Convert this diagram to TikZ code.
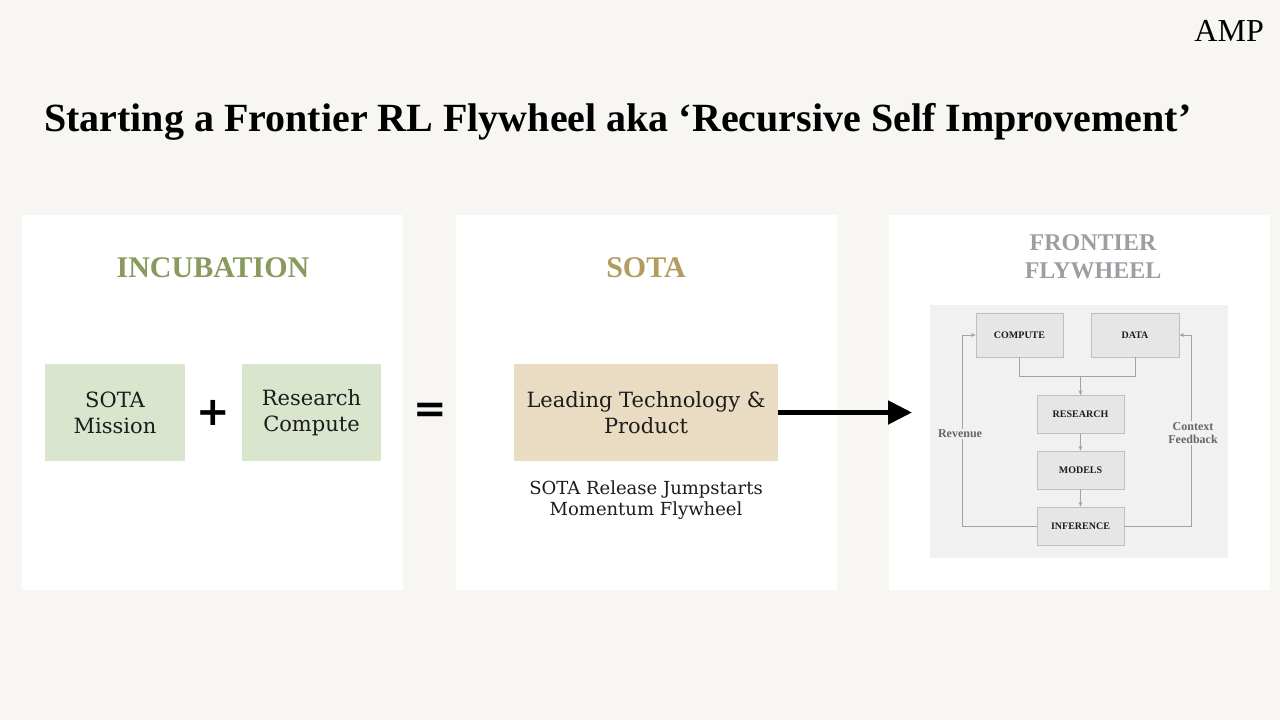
\documentclass[tikz,border=0pt]{standalone}
\usepackage{fontspec}
\setmainfont{Liberation Serif}
\newfontfamily\bodyfont{DejaVu Serif}
\newfontfamily\signfont{DejaVu Sans}
\usetikzlibrary{arrows.meta,calc}
\definecolor{pagebg}{HTML}{F7F6F3}
\definecolor{incgreen}{HTML}{8A9A5E}
\definecolor{incbox}{HTML}{D9E5CD}
\definecolor{sotagold}{HTML}{B29C5E}
\definecolor{sotabox}{HTML}{E9DCC3}
\definecolor{flygray}{HTML}{9C9EA4}
\definecolor{flybg}{HTML}{F1F1F1}
\definecolor{flybox}{HTML}{E6E6E6}
\definecolor{flyline}{HTML}{A3A3A3}
\definecolor{bodyink}{HTML}{1C1C1C}
\tikzset{
  panel/.style={fill=white,draw=none,minimum width=381pt,minimum height=375pt,inner sep=0pt},
  head/.style={font=\bfseries\fontsize{30}{32}\selectfont},
  bigbox/.style={minimum height=97pt,inner sep=0pt,align=center,text=bodyink,
    font=\bodyfont\fontsize{21}{26}\selectfont},
  sign/.style={font=\signfont\bfseries\fontsize{40}{44}\selectfont,inner sep=0pt},
  flybox/.style={fill=flybox,draw=flyline!70,line width=0.6pt,minimum width=87pt,
    minimum height=38pt,inner sep=0pt,font=\bfseries\fontsize{10}{12}\selectfont,text=bodyink},
  flowline/.style={draw=flyline,line width=0.8pt},
  flow/.style={flowline,-{Stealth[length=5pt,width=4pt]}},
  sidelabel/.style={fill=flybg,inner sep=1pt,align=center,text=black!60,
    font=\bfseries\fontsize{12}{13}\selectfont}
}
\begin{document}
\begin{tikzpicture}[x=1pt,y=-1pt]
\fill[pagebg] (0,0) rectangle (1280,720);
\node[anchor=base east,inner sep=0pt,font=\fontsize{32}{34}\selectfont] (amp) at (1264,41) {AMP};
\node[anchor=base west,inner sep=0pt,font=\bfseries\fontsize{40}{42}\selectfont] (title) at (44,131)
  {Starting a Frontier RL Flywheel aka ‘Recursive Self Improvement’};
\node[panel] (incpanel) at (212.5,402.5) {};
\node[panel] (sotapanel) at (646,402.5) {};
\node[panel] (flypanel) at (1079.5,402.5) {};
\node[head,text=incgreen] (inchead) at (213,268) {INCUBATION};
\node[head,text=sotagold] (sotahead) at (646,268) {SOTA};
\node[head,text=flygray,align=center,font=\bfseries\fontsize{24}{28}\selectfont] (flyhead) at (1093,257)
  {FRONTIER\\FLYWHEEL};
\node[bigbox,fill=incbox,minimum width=140pt] (mission) at (115,412.5) {SOTA\\Mission};
\node[bigbox,fill=incbox,minimum width=139pt] (rcompute) at (311.5,412.5) {Research\\Compute};
\node[sign] (plus) at (213,413) {+};
\node[sign] (equals) at (430.5,412.5) {=};
\node[bigbox,fill=sotabox,minimum width=264pt] (leading) at (646,412.5) {Leading Technology \&\\Product};
\node[align=center,text=bodyink,font=\bodyfont\fontsize{18}{21}\selectfont] (jumpstart) at (646,500)
  {SOTA Release Jumpstarts\\Momentum Flywheel};
\coordinate (arrowend) at (912,412.5);
\draw[line width=5pt,-{Triangle[length=24pt,width=23pt]}] (leading.east) -- (arrowend);
\node[fill=flybg,minimum width=298pt,minimum height=253pt,inner sep=0pt] (flyback) at (1079,431.5) {};
\node[flybox,minimum height=44pt] (compute) at (1019.5,335) {COMPUTE};
\node[flybox,minimum height=44pt,minimum width=88pt] (data) at (1135,335) {DATA};
\node[flybox] (research) at (1080.5,414.5) {RESEARCH};
\node[flybox] (models) at (1080.5,470) {MODELS};
\node[flybox] (inference) at (1080.5,526) {INFERENCE};
\coordinate (merge) at ($(research.north)+(0,-19)$);
\draw[flowline] (compute.south) |- (merge) -| (data.south);
\draw[flow] (merge) -- (research.north);
\draw[flow] (research) -- (models);
\draw[flow] (models) -- (inference);
\draw[flow] (inference.west) -- ++(-74,0) |- (compute.west);
\draw[flow] (inference.east) -- ++(67,0) |- (data.east);
\node[sidelabel] (revenue) at (960,434) {Revenue};
\node[sidelabel] (feedback) at (1193,433) {Context\\Feedback};
\end{tikzpicture}
\end{document}
